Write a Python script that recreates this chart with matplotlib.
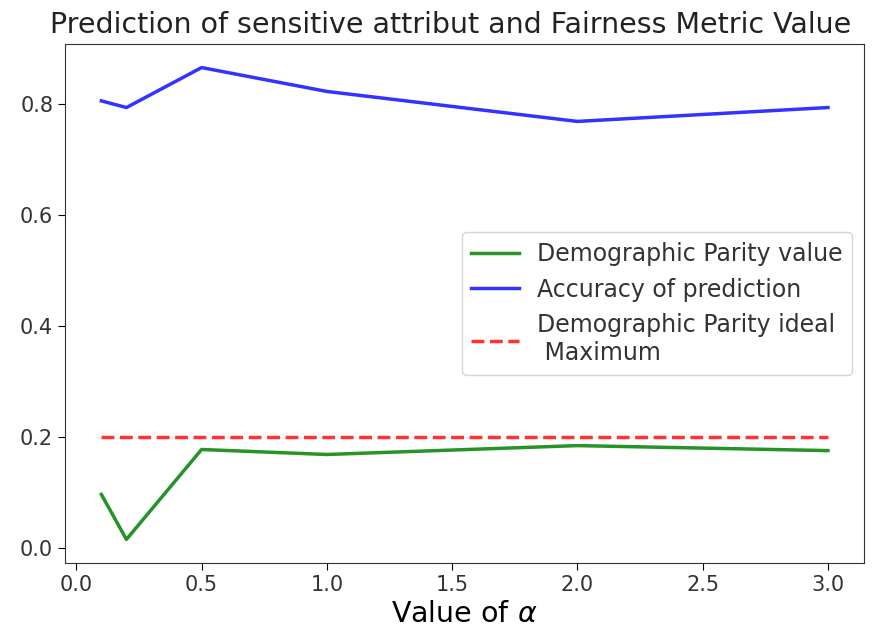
import matplotlib
matplotlib.use("Agg")
import matplotlib.pyplot as plt

alphas = [0.1, 0.2, 0.5, 1.0, 2.0, 3.0]
dp_values = [0.096, 0.015, 0.177, 0.168, 0.184, 0.175]
accuracy = [0.805, 0.793, 0.865, 0.822, 0.768, 0.793]
dp_ideal_max = [0.2, 0.2, 0.2, 0.2, 0.2, 0.2]

fig = plt.figure(figsize=(8.73, 6.43), dpi=100)
ax = fig.add_axes([0.0745, 0.1244, 0.9155, 0.8072])

ax.plot(alphas, dp_values, color='green', lw=2.5, alpha=0.85, label='Demographic Parity value')
ax.plot(alphas, accuracy, color='blue', lw=2.5, alpha=0.8, label='Accuracy of prediction')
ax.plot(alphas, dp_ideal_max, color='red', lw=2.5, ls='--', alpha=0.8,
        label='Demographic Parity ideal\n Maximum')

ax.set_title('Prediction of sensitive attribut and Fairness Metric Value', fontsize=20.5, pad=8,
             color='#222222', x=0.483)
ax.set_xlabel(r'Value of $\alpha$', fontsize=20.5)
ax.tick_params(labelsize=15, length=5, labelcolor='#333333')
ax.set_yticks([0.0, 0.2, 0.4, 0.6, 0.8])
for s in ax.spines.values():
    s.set_color('#333333')
ax.legend(loc='center right', fontsize=17, labelcolor='#333333')

fig.savefig('out.png', dpi=100)
